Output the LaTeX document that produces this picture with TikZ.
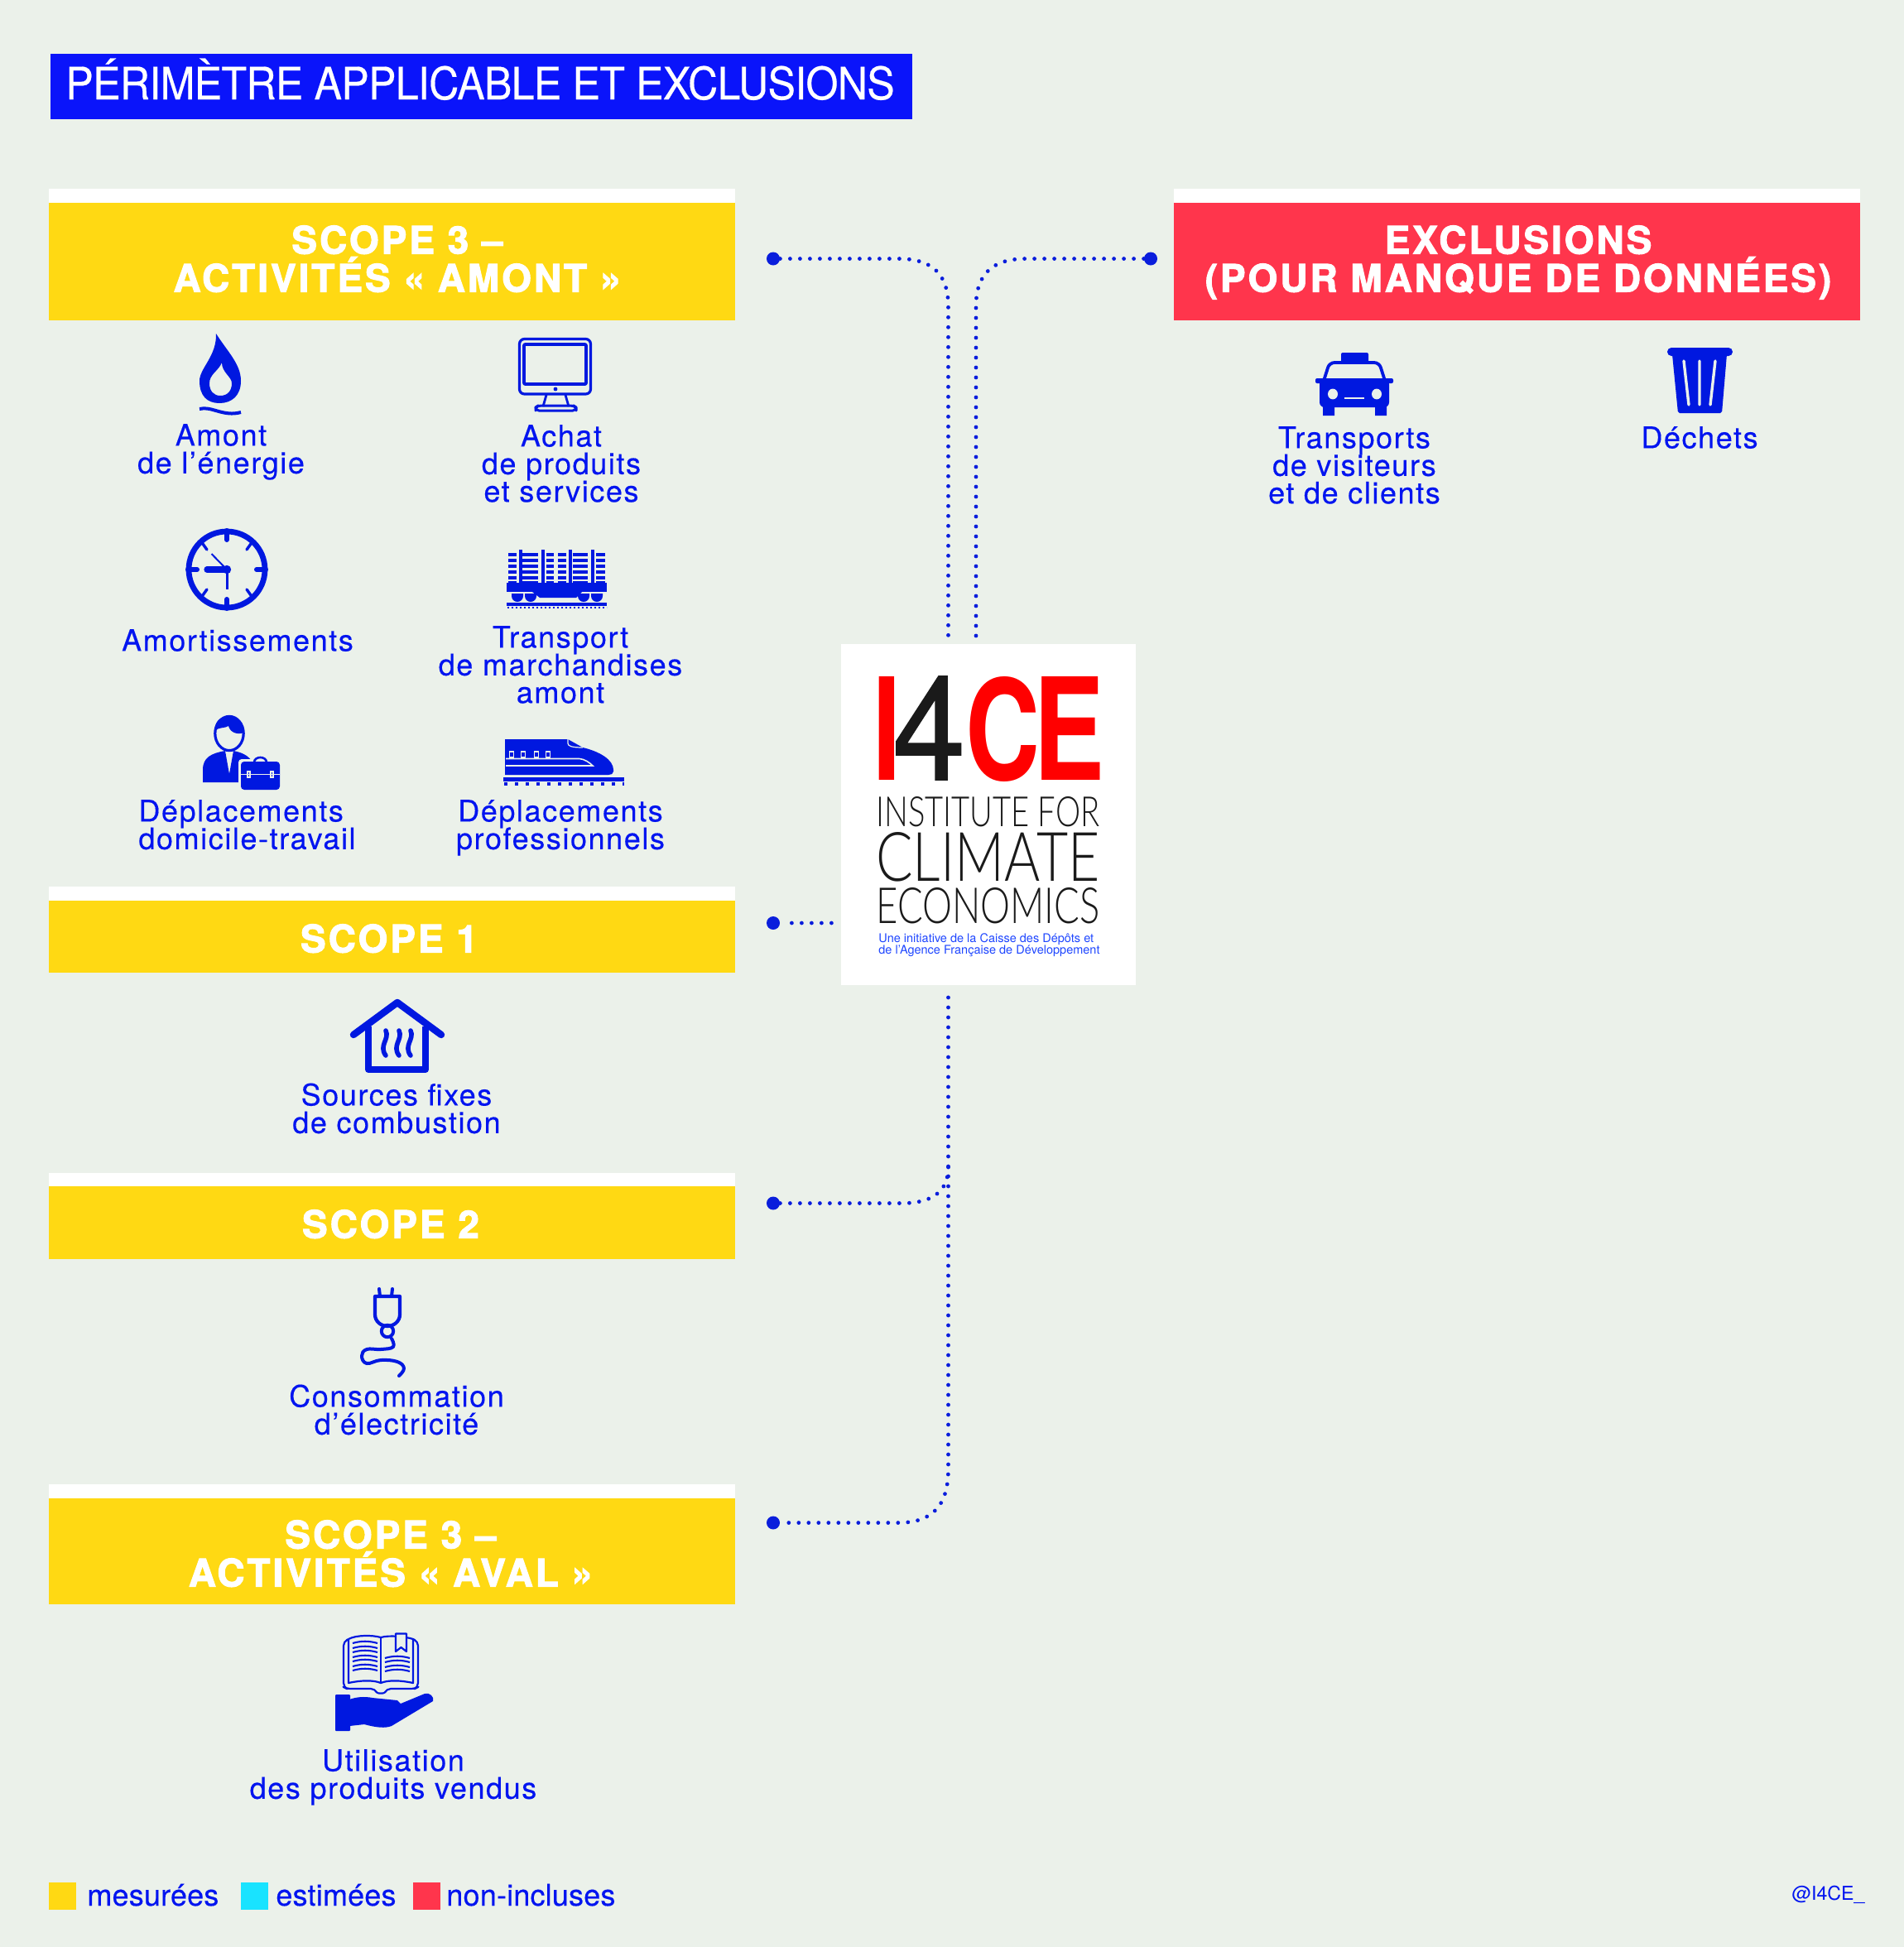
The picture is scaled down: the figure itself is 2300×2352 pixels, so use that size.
\documentclass[tikz,border=0pt]{standalone}
\usepackage{fontspec}
\setmainfont{TeX Gyre Heros}
\newfontfamily\labfam[LetterSpace=4.4,FakeBold=0.3]{TeX Gyre Heros}
\newfontfamily\legfam[LetterSpace=0.5,FakeBold=0.3]{TeX Gyre Heros}
\newfontfamily\titlefam[FakeStretch=0.93,LetterSpace=-1.4,FakeBold=0.35]{TeX Gyre Heros}
\newfontfamily\headfam[BoldFeatures={FakeBold=2.2,LetterSpace=6.4}]{TeX Gyre Heros}
\newfontfamily\logofam{TeX Gyre Heros}
\newfontfamily\thinfam[UprightFont={* Light}]{Lato}
\newfontfamily\fourfam[FakeBold=0.9]{TeX Gyre Heros}
\newcommand\labfnt{\labfam\fontsize{18pt}{16.7pt}\selectfont}
\newcommand\legfnt{\legfam\fontsize{18pt}{16.7pt}\selectfont}
\newcommand\hdfnt{\headfam\bfseries\fontsize{23pt}{23pt}\selectfont}
\AtBeginDocument{\global\lineskiplimit=-20pt\relax}
\definecolor{bgc}{HTML}{EBF1EA}
\definecolor{yel}{HTML}{FFD913}
\definecolor{redc}{HTML}{FF354C}
\definecolor{cya}{HTML}{19E3FF}
\definecolor{txb}{HTML}{0014F0}
\definecolor{titb}{HTML}{0A14FA}
\definecolor{icb}{HTML}{0018E0}
\definecolor{lineb}{HTML}{0A1EDC}
\definecolor{logor}{HTML}{FF0000}
\definecolor{logok}{HTML}{1A1A1A}
\definecolor{logob}{HTML}{1E46FF}
\tikzset{
  lab/.style={inner sep=0pt,anchor=north,align=center,text=txb,font=\labfnt},
  labl/.style={lab,align=left,anchor=north west},
  legl/.style={inner sep=0pt,anchor=base west,text=txb,font=\legfnt},
  hdr/.style={inner sep=0pt,anchor=north,align=center,text=white,font=\hdfnt},
  band/.style={inner sep=0pt,anchor=north west,minimum width=414.5pt},
  whiteband/.style={band,fill=white,minimum height=8.5pt},
  link/.style={draw=lineb,line width=2.4pt,line cap=round,dash pattern=on 0pt off 6pt},
  dotn/.style={circle,fill=lineb,inner sep=0pt,minimum size=8pt},
  logot/.style={inner sep=0pt,anchor=base west,text=logok,font=\thinfam},
  logog/.style={inner sep=0pt,anchor=base west,font=\logofam\bfseries},
  logos/.style={inner sep=0pt,anchor=base west,text=logob,font=\logofam\fontsize{7.25pt}{7pt}\selectfont},
  leg/.style={inner sep=0pt,anchor=north west,minimum width=16.5pt,minimum height=16.5pt},
  ln/.style={draw=icb,fill=none,line join=round},
}
\newcommand\lab[4]{\node[lab] (#1) at ({#2},{#3-28}) {\rule{0pt}{14pt}#4};}
\newcommand\hdr[4]{\node[hdr] (#1) at ({#2},{#3-34}) {\rule{0pt}{17pt}#4};}
\begin{document}
\begin{tikzpicture}[x=0.5pt,y=-0.5pt]
\useasboundingbox (0,0) rectangle (2300,2352);
\fill[bgc] (0,0) rectangle (2300,2352);
% title
\node[inner sep=0pt,anchor=north west,fill=titb,minimum width=520.5pt,minimum height=39.5pt] (titlebox) at (61,65) {};
\node[inner sep=0pt,anchor=base west,text=white,font=\titlefam\fontsize{27pt}{27pt}\selectfont] (title) at (79,120) {PÉRIMÈTRE APPLICABLE ET EXCLUSIONS};
% bands
\node[whiteband] (b1w) at (59,228) {};
\node[band,fill=yel,minimum height=71pt] (b1) at (59,245) {};
\node[whiteband] (b2w) at (59,1071) {};
\node[band,fill=yel,minimum height=43.5pt] (b2) at (59,1088) {};
\node[whiteband] (b3w) at (59,1417) {};
\node[band,fill=yel,minimum height=44pt] (b3) at (59,1433) {};
\node[whiteband] (b4w) at (59,1793) {};
\node[band,fill=yel,minimum height=64pt] (b4) at (59,1810) {};
\node[whiteband] (b5w) at (1418,228) {};
\node[band,fill=redc,minimum height=71pt] (b5) at (1418,245) {};
\hdr{h1}{480}{306}{SCOPE 3 –\\ACTIVITÉS « AMONT »}
\hdr{h2}{470}{1150}{SCOPE 1}
\hdr{h3}{472}{1495}{SCOPE 2}
\hdr{h4}{472}{1870}{SCOPE 3 –\\ACTIVITÉS « AVAL »}
\hdr{h5}{1834}{306}{EXCLUSIONS\\(POUR MANQUE DE DONNÉES)}
% labels
\lab{l1}{267}{538}{Amont\\de l’énergie}
\lab{l2}{678}{539}{Achat\\de produits\\et services}
\lab{l3}{287}{786}{Amortissements}
\lab{l4}{677}{782}{Transport\\de marchandises\\amont}
\node[labl] (l5) at (167,964) {\rule{0pt}{14pt}Déplacements\\domicile-travail};
\lab{l6}{677}{992}{Déplacements\\professionnels}
\lab{l7}{479}{1335}{Sources fixes\\de combustion}
\lab{l8}{479}{1699}{Consommation\\d’électricité}
\lab{l9}{475}{2139}{Utilisation\\des produits vendus}
\lab{l10}{1636}{541}{Transports\\de visiteurs\\et de clients}
\lab{l11}{2053}{541}{Déchets}
% legend
\node[leg,fill=yel] (k1) at (59,2274) {};
\node[leg,fill=cya] (k2) at (291,2274) {};
\node[leg,fill=redc] (k3) at (499,2274) {};
\node[legl] (m1) at (105,2302) {mesurées};
\node[legl] (m2) at (333,2302) {estimées};
\node[legl] (m3) at (539,2302) {non-incluses};
\node[inner sep=0pt,anchor=base east,text=txb,font=\fontsize{11.6pt}{12pt}\selectfont] (handle) at (2253,2295) {@I4CE\_};
% logo
\node[inner sep=0pt,anchor=north west,fill=white,minimum width=178pt,minimum height=206pt] (logo) at (1016,778) {};
\node[logog,text=logor] (gi) at (1054,942) {\resizebox{17pt}{62.5pt}{I}};
\node[inner sep=0pt,anchor=base west,text=logok,font=\fourfam] (g4) at (1078,942) {\resizebox{44pt}{62.5pt}{4}};
\node[logog,text=logor] (gc) at (1166,942) {\resizebox{45pt}{62.5pt}{C}};
\node[logog,text=logor] (ge) at (1248,942) {\resizebox{43pt}{62.5pt}{E}};
\node[logot] (n1) at (1058,998) {\resizebox{135pt}{18pt}{INSTITUTE FOR}};
\node[logot] (n2) at (1058,1064) {\resizebox{135pt}{29.5pt}{CLIMATE}};
\node[logot] (n3) at (1058,1115) {\resizebox{135pt}{21.5pt}{ECONOMICS}};
\node[logos] (n4) at (1061,1138) {Une initiative de la Caisse des Dépôts et};
\node[logos] (n5) at (1061,1152) {de l’Agence Française de Développement};
% connectors
\node[dotn] (d1) at (934,312.5) {};
\node[dotn] (d2) at (1390,312.5) {};
\node[dotn] (d3) at (934,1115) {};
\node[dotn] (d4) at (934,1453.5) {};
\node[dotn] (d5) at (934,1839.5) {};
\coordinate (c1) at (1145.5,772);
\coordinate (c2) at (1179,772);
\coordinate (c3) at (1145.5,1205);
\coordinate (c4) at (1145.5,1410);
\draw[link] (d1) -- (1085,312.5) .. controls (1125,312.5) and (1145.5,330) .. (1145.5,370) -- (c1);
\draw[link] (d2) -- (1240,312.5) .. controls (1200,312.5) and (1179,330) .. (1179,370) -- (c2);
\draw[link,shorten <=7pt,shorten >=1pt] (d3) -- (d3 -| logo.west);
\draw[link] (d4) -- (1090,1453.5) .. controls (1125,1453.5) and (1145.5,1440) .. (c4);
\draw[link] (c3) -- (1145.5,1775) .. controls (1145.5,1820) and (1125,1839.5) .. (1085,1839.5) -- (d5);
% flame
\fill[icb,even odd rule] (261,403) .. controls (275,425) and (291,440) .. (291,460) .. controls (291,478) and (280,487) .. (265,487) .. controls (250,487) and (241,478) .. (241,460) .. controls (241,445) and (262,430) .. (261,403) -- cycle
 (268,438) .. controls (268,450) and (280,455) .. (280,463) .. controls (280,472) and (275,478) .. (266,478) .. controls (258,478) and (253,472) .. (253,463) .. controls (253,452) and (264,448) .. (268,438) -- cycle;
\draw[ln,line width=2pt] (241,494) .. controls (255,490) and (270,504) .. (291,498);
% monitor
\draw[ln,line width=1.6pt,rounded corners=3pt] (627.5,409.5) rectangle (713.5,476);
\draw[ln,line width=1.8pt,rounded corners=0.5pt] (633,416) rectangle (708,464);
\fill[icb] (671,470) circle (1.2pt);
\draw[ln,line width=1.4pt] (660,477) -- (656,491) (683,477) -- (687,491);
\draw[ln,line width=1.5pt,rounded corners=2pt] (647,496) -- (647,492) -- (650,490) -- (693,490) -- (696,492) -- (696,496) -- cycle;
% clock
\draw[ln,line width=3.4pt] (274,688) circle (23pt);
\draw[ln,line width=3pt,line cap=round] (274,641) -- (274,652) (274,724) -- (274,735) (227,688) -- (238,688) (310,688) -- (321,688);
\draw[ln,line width=1.7pt,line cap=round] (245,657) -- (250,664) (303,657) -- (298,664) (245,719) -- (250,712) (303,719) -- (298,712);
\draw[ln,line width=3.6pt,line cap=round] (250,688) -- (274,688);
\draw[ln,line width=1.5pt] (274,688) -- (274,712);
\draw[ln,line width=1pt] (274,688) -- (255.5,669);
\fill[icb] (274,688) circle (2.6pt);
% freight
\foreach \s in {668,675,682,689,696,702}{\foreach \a/\b in {614/624,631/650,660/669,674/684,692/710,720/731}{\fill[icb] (\a,\s) rectangle (\b,\s+3.6);}}
\foreach \a in {629,656,689,716}{\fill[icb] (\a-2.4,664) rectangle (\a+2.4,704);}
\fill[icb] (612,704) rectangle (733,715);
\fill[icb] (643,715) -- (652,722) -- (696,722) -- (703,715) -- cycle;
\foreach \a in {625,641,705,721}{\fill[icb] (\a-7,717) -- (\a+7,717) -- (\a+7,720) arc[start angle=0,end angle=-180,radius=3.5pt] -- cycle;}
\fill[icb] (612,728) rectangle (733,732);
\draw[icb,line width=1.2pt,dash pattern=on 1.2pt off 1.3pt] (613,734) -- (733,734);
% person
\draw[ln,line width=1.6pt] (277,886) ellipse [x radius=8.6pt,y radius=10.3pt];
\fill[icb] (259.5,883) .. controls (259,870) and (268,865) .. (277,865) .. controls (286,865) and (294.5,872) .. (294.5,885) .. controls (287,888) and (278,885) .. (276,877) .. controls (272,880) and (264,878) .. (259.5,883) -- cycle;
\fill[icb] (245,945) -- (245,930) .. controls (245,915) and (255,910) .. (272,907) -- (277,935) -- (282,907) .. controls (292,909) and (300,912) .. (306,922) -- (306,945) -- cycle;
\fill[bgc,rounded corners=2pt] (288,917) rectangle (341,957);
\draw[ln,line width=1.3pt] (307,921) .. controls (307,913) and (322,913) .. (322,921);
\fill[icb,rounded corners=2pt] (291,920) rectangle (338,954);
\draw[bgc,line width=0.5pt] (291,935) -- (338,935);
\draw[bgc,line width=0.6pt] (299,932) rectangle (302,939) (327,932) rectangle (330,939);
% train
\fill[icb] (610,893) -- (686,893) -- (704,903) .. controls (725,908) and (741,918) .. (741,930) -- (741,932) .. controls (741,935) and (738,936) .. (735,936) -- (610,936) -- cycle;
\draw[bgc,line width=0.6pt] (686,893) -- (686,898) .. controls (686,901) and (690,903) .. (704,903);
\foreach \a in {618,632,648,662}{\draw[bgc,line width=0.6pt] (\a-2.5,908) rectangle (\a+2.5,915);}
\draw[bgc,line width=0.8pt] (611,916.5) -- (700,916.5) .. controls (706,917) and (712,921) .. (716,925) -- (611,925);
\fill[icb] (608,938.5) rectangle (754,943.5);
\draw[icb,line width=1.6pt,dash pattern=on 1.8pt off 4.7pt] (609,947) -- (754,947);
% house
\draw[ln,line width=4.2pt,line cap=round] (427,1250) -- (480,1211) -- (533,1250);
\draw[ln,line width=4pt] (445,1240) -- (445,1292) -- (514,1292) -- (514,1240);
\foreach \a in {463,479,493}{\draw[ln,line width=2.8pt,line cap=round] (\a+3,1245) .. controls (\a+8,1255) and (\a-6,1263) .. (\a+3,1275);}
% plug
\draw[ln,line width=2pt,line cap=round] (458,1557) -- (459,1566) (474,1557) -- (473,1566);
\draw[ln,line width=2.1pt] (453,1566) -- (483,1566) -- (483,1588) .. controls (483,1596) and (476,1602) .. (468,1602) .. controls (460,1602) and (453,1596) .. (453,1588) -- cycle;
\draw[ln,line width=2pt] (468,1608) circle (3.6pt);
\draw[ln,line width=2pt,line cap=round] plot[smooth,tension=0.7] coordinates {(473,1617) (475,1627) (460,1630) (443,1630) (437,1638) (443,1647) (460,1643) (480,1645) (488,1653) (482,1662)};
% book
\draw[ln,line width=1.1pt,rounded corners=2.5pt] (421,1980) -- (415,1983) -- (415,2038) -- (419,2040) -- (453,2040) .. controls (456,2046) and (464,2046) .. (467,2040) -- (501,2040) -- (505,2038) -- (505,1983) -- (499,1980);
\draw[ln,line width=1.1pt] (421,1980) -- (421,2033) .. controls (435,2030) and (450,2029) .. (460,2033) .. controls (470,2029) and (485,2030) .. (499,2033) -- (499,1980) .. controls (490,1977) and (470,1975) .. (460,1978) .. controls (450,1975) and (430,1975) .. (421,1980);
\draw[ln,line width=1.1pt] (460,1978) -- (460,2033);
\foreach \s in {1985,1991,1996,2002,2007,2013,2018}{\draw[ln,line width=1.05pt] (426,\s) .. controls (436,\s-3) and (446,\s-3) .. (456,\s);}
\foreach \s in {2003,2008,2014,2019}{\draw[ln,line width=1.05pt] (465,\s) .. controls (475,\s-3) and (485,\s-3) .. (495,\s);}
\fill[bgc] (478,1973) rectangle (491,1996);
\draw[ln,line width=1.1pt] (478,1995) -- (478,1973.5) -- (491,1973.5) -- (491,1995) -- (484.5,1990) -- cycle;
\fill[icb,rounded corners=0.5pt] (405,2047) rectangle (423,2091);
\fill[icb] (422,2053) .. controls (430,2050) and (440,2049) .. (450,2051) -- (480,2054) -- (484,2058) -- (513,2046) .. controls (519,2044) and (525,2050) .. (523,2055) -- (493,2073) -- (473,2085) .. controls (465,2088) and (455,2087) .. (440,2083) -- (422,2085) -- cycle;
% taxi
\fill[icb,rounded corners=1pt] (1620,426) rectangle (1653,439);
\draw[ln,line width=1.9pt,rounded corners=3pt] (1599,460) -- (1606,438) -- (1666,438) -- (1673,460);
\fill[icb,rounded corners=3pt] (1594,458) rectangle (1678,492);
\fill[icb,rounded corners=1pt] (1589,457) rectangle (1683,463);
\fill[icb] (1598,490) rectangle (1612,502) (1661,490) rectangle (1675,502);
\fill[bgc] (1610,476) ellipse [x radius=3pt,y radius=3.2pt] (1663,476) ellipse [x radius=3pt,y radius=3.2pt];
\draw[bgc,line width=0.9pt] (1624,481) -- (1648,481);
% trash
\fill[icb,rounded corners=2.5pt] (2014,420) rectangle (2093,430);
\fill[icb,rounded corners=1pt] (2020,428) -- (2086,428) -- (2080,499) -- (2027,499) -- cycle;
\draw[bgc,line width=1.7pt,line cap=round] (2034,436) -- (2040,489) (2053,436) -- (2053,489) (2072,436) -- (2066,489);
\end{tikzpicture}
\end{document}
